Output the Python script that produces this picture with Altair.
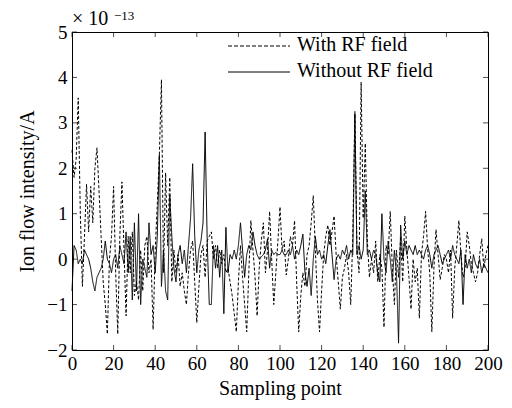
import altair as alt
import pandas as pd

# ---- data (values in units of 1e-13 A) ----
with_rf = [
    2.4, 1.8, 2.2, 3.55, 1.0, -0.6, 0.5, 1.65, 0.6, 1.6,
    0.8, 2.0, 2.45, 1.5, 0.5, -0.5, -1.0, -1.65, 0.0, 0.5,
    1.6, -0.3, -1.65, 0.5, 1.7, 0.2, -1.25, 0.5, -0.3, 0.6,
    -0.8, -0.5, -0.9, 0.2, -0.7, 0.3, 0.5, -0.3, 0.0, -1.55,
    0.2, 1.2, 2.3, 3.95, -0.3, 1.9, 0.3, 1.8, -0.5, 0.2,
    -0.3, 0.1, -0.6, -0.3, -0.7, -1.0, -0.3, 0.2, 0.4, -0.5,
    -1.4, -0.6, 0.1, 0.3, -0.4, 0.4, 0.5, 0.6, 0.0, 0.3,
    -0.2, 0.2, -0.1, 0.1, -0.3, -0.2, -0.5, -0.8, -1.2, -1.6,
    -0.5, 0.3, -0.4, -1.0, -1.6, -0.3, 0.85, 0.2, -0.4, -1.25,
    -0.2, 0.4, 0.8, -0.3, 0.2, 1.05, 0.0, -1.0, -0.3, 0.4,
    1.15, 0.2, 0.4, -0.35, 0.0, 0.5, 0.3, 0.85, -0.5, -1.6,
    -0.8, -0.3, -0.6, 0.1, 0.3, 0.8, 1.4, 0.2, -0.9, -1.6,
    -0.7, 0.1, 0.5, 0.75, 0.3, 0.6, 0.95, 0.1, -0.5, -1.1,
    -0.4, -0.2, 0.1, -0.3, -1.0, 0.5, 3.25, 0.2, -0.3, 3.9,
    0.9, 2.55, 0.4, -0.4, 0.0, -0.3, 0.4, -0.5, 0.1, -0.2,
    -1.5, 0.3, 0.1, 1.05, -0.2, -1.0, 0.2, -0.4, 0.5, -0.5,
    0.95, 0.2, -0.4, -1.1, 0.0, -0.5, -0.2, -1.3, 0.1, 0.5,
    1.05, 0.2, -0.3, -1.6, -0.2, 0.65, 0.1, -0.45, -0.2, 0.1,
    0.0, -0.3, 0.2, -1.3, -0.2, 0.3, 0.85, 0.1, -0.4, -0.2,
    0.6, 0.3, -0.1, -0.3, -0.5, -0.3, 0.1, 0.45, -0.2, 0.1,
    0.3,
]
without_rf = [
    -0.7, 0.3, 0.2, -0.1, 0.0, -0.1, 0.2, 0.1, 0.0, -0.2,
    -0.5, -0.7, -0.4, -0.3, -0.2, 0.0, 0.4, 0.0, -0.1, -0.3,
    0.0, 0.1, -0.2, 0.3, 0.1, -0.1, 0.6, -0.3, 0.5, -0.9,
    0.8, -0.7, 1.0, -1.0, 0.0, -0.2, -0.4, 0.8, 0.1, 0.3,
    -0.3, 0.5, 2.3, -0.6, 0.2, -0.7, -0.9, 1.4, 0.5, -0.2,
    -0.5, 0.1, 0.3, -0.1, 0.2, -0.3, 0.3, 0.9, 2.1, 0.5,
    -0.3, 0.2, 0.4, 0.8, 2.8, 0.4, -1.0, -1.0, 0.3, -0.2,
    0.3, -0.4, 0.2, -1.2, 0.7, -0.3, 0.1, 0.0, 0.2, 0.0,
    0.3, 0.8, 0.2, -0.4, 0.1, 0.3, 0.2, 0.6, 0.3, 0.1,
    0.0, 0.05, 0.1, 0.2, 0.45, -0.2, 0.2, 0.1, 0.15, 0.1,
    0.1, 0.2, 0.1, 0.1, 0.2, 0.1, 0.3, 0.0, 0.2, 0.1,
    0.3, 0.55, -0.3, -0.6, -0.2, -0.8, 0.0, 0.5, 0.1, 0.2,
    0.0, 0.1, -0.1, 0.3, 0.65, 0.1, -0.45, 0.0, 0.1, 0.0,
    0.2, 0.1, 0.3, 0.0, 0.2, 0.1, 3.2, 0.1, 0.3, 0.0,
    0.2, 1.5, 0.1, 0.2, 0.0, 0.2, 0.1, -0.3, -0.5, 1.0,
    0.0, -0.3, 0.4, 0.0, -0.5, 0.2, -0.3, -1.85, 0.75, 0.0,
    0.4, 0.1, 0.3, 0.2, 0.1, 0.3, 0.1, 0.2, 0.1, 0.0,
    0.2, 0.3, 0.1, -0.2, 0.1, 0.2, 0.3, 0.1, -0.1, 0.0,
    0.1, 0.2, 0.0, 0.3, 0.1, 0.0, -0.1, 0.2, -1.0, 0.1,
    -0.2, 0.0, -0.3, 0.1, -0.1, -0.2, 0.0, -0.3, -0.1, -0.2,
    -0.3,
]
series_names = ["With RF field", "Without RF field"]
x_ticks = [0, 20, 40, 60, 80, 100, 120, 140, 160, 180, 200]
y_ticks = [-2, -1, 0, 1, 2, 3, 4, 5]

W, H = 416, 318
FONT = "Liberation Serif"

rows = []
for name, vals in zip(series_names, [with_rf, without_rf]):
    for i, v in enumerate(vals):
        rows.append({"x": i, "y": v, "series": name})
df = pd.DataFrame(rows)

xscale = alt.Scale(domain=[0, 200], nice=False, zero=False)
yscale = alt.Scale(domain=[-2, 5], nice=False, zero=False)

axis_style = dict(tickSize=0, domain=False, grid=False, labelOverlap=False,
                  labelFlush=False,
                  labelFont=FONT, labelFontSize=19, labelColor="black",
                  titleFont=FONT, titleFontSize=20, titleFontWeight="normal",
                  titleColor="black")

lines = alt.Chart(df).mark_line(strokeWidth=1, color="black").encode(
    x=alt.X("x:Q", scale=xscale,
            axis=alt.Axis(values=x_ticks, title="Sampling point",
                          labelPadding=4, titlePadding=5, **axis_style)),
    y=alt.Y("y:Q", scale=yscale,
            axis=alt.Axis(values=y_ticks, title="Ion flow intensity/A",
                          labelPadding=5, titlePadding=9, **axis_style)),
    strokeDash=alt.StrokeDash("series:N",
                              scale=alt.Scale(domain=series_names,
                                              range=[[3, 2], [1, 0]]),
                              legend=None),
    strokeWidth=alt.StrokeWidth("series:N",
                                scale=alt.Scale(domain=series_names,
                                                range=[0.8, 1.1]),
                                legend=None),
    detail="series:N",
)

xt = pd.DataFrame({"v": x_ticks})
yt = pd.DataFrame({"v": y_ticks})
tick_b = alt.Chart(xt).mark_tick(orient="vertical", size=5, thickness=1, color="black").encode(
    x=alt.X("v:Q", scale=xscale), y=alt.value(H - 2.5))
tick_t = alt.Chart(xt).mark_tick(orient="vertical", size=5, thickness=1, color="black").encode(
    x=alt.X("v:Q", scale=xscale), y=alt.value(2.5))
tick_l = alt.Chart(yt).mark_tick(orient="horizontal", size=5, thickness=1, color="black").encode(
    y=alt.Y("v:Q", scale=yscale), x=alt.value(2.5))
tick_r = alt.Chart(yt).mark_tick(orient="horizontal", size=5, thickness=1, color="black").encode(
    y=alt.Y("v:Q", scale=yscale), x=alt.value(W - 2.5))

# exponent label
exp_base = alt.Chart(pd.DataFrame({"t": ["× 10"]})).mark_text(
    font=FONT, fontSize=20, align="left", baseline="middle", color="black"
).encode(text="t:N", x=alt.value(0), y=alt.value(-13))
exp_pow = alt.Chart(pd.DataFrame({"t": ["−13"]})).mark_text(
    font=FONT, fontSize=13, align="left", baseline="middle", color="black"
).encode(text="t:N", x=alt.value(42), y=alt.value(-16))

# legend (manual, inside the plot)
leg_dash = alt.Chart(pd.DataFrame({"s": [series_names[0]]})).mark_rule(
    color="black", strokeWidth=1, strokeDash=[4, 2]
).encode(x=alt.value(156), x2=alt.value(218), y=alt.value(14))
leg_solid = alt.Chart(pd.DataFrame({"s": [series_names[1]]})).mark_rule(
    color="black", strokeWidth=1
).encode(x=alt.value(156), x2=alt.value(218), y=alt.value(40))
leg_t1 = alt.Chart(pd.DataFrame({"s": [series_names[0]]})).mark_text(
    font=FONT, fontSize=20, align="left", baseline="middle", color="black"
).encode(text="s:N", x=alt.value(225), y=alt.value(13))
leg_t2 = alt.Chart(pd.DataFrame({"s": [series_names[1]]})).mark_text(
    font=FONT, fontSize=20, align="left", baseline="middle", color="black"
).encode(text="s:N", x=alt.value(225), y=alt.value(39))

chart = alt.layer(
    lines, tick_b, tick_t, tick_l, tick_r, exp_base, exp_pow,
    leg_dash, leg_solid, leg_t1, leg_t2
).properties(
    width=W, height=H,
    background="white",
    autosize=alt.AutoSizeParams(type="none"),
    padding={"left": 64, "top": 24, "right": 16, "bottom": 50},
).configure_view(
    stroke="black", strokeWidth=1
)

chart.save("out.html", embed_options={"renderer": "svg", "actions": False})
